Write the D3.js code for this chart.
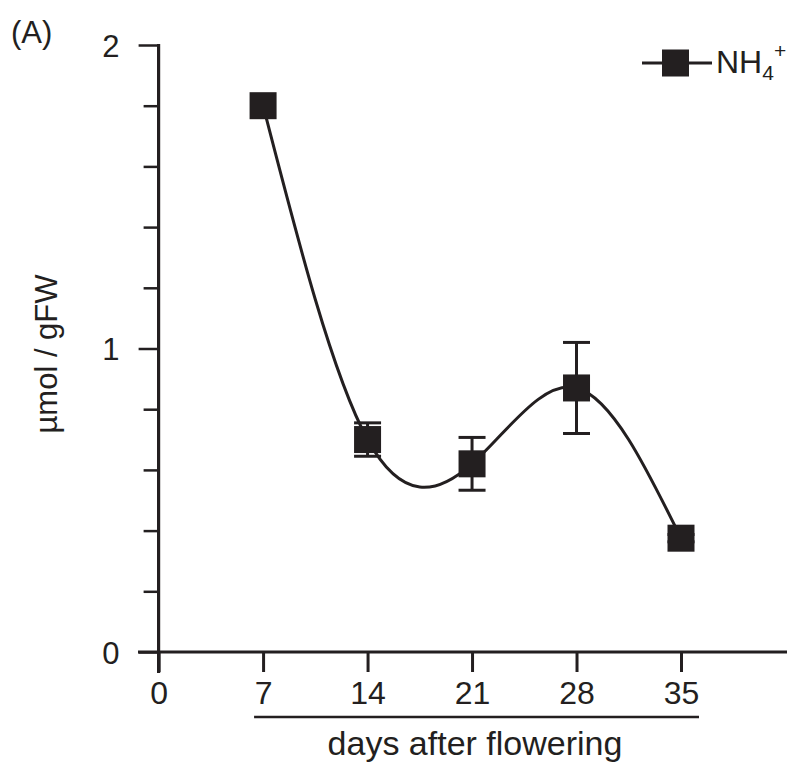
<!DOCTYPE html>
<html>
<head>
<meta charset="utf-8">
<script src="https://cdn.jsdelivr.net/npm/d3@7"></script>
<style>
  body { margin: 0; background: #fff; }
  text { font-family: "Liberation Sans", Arial, Helvetica, sans-serif; fill: #231f20; }
</style>
</head>
<body>
<svg id="chart"></svg>
<script>
// data
const days = [7, 14, 21, 28, 35];
const nh4 = [1.8, 0.70, 0.62, 0.87, 0.375];
const nh4Err = [0, 0.055, 0.087, 0.15, 0.012];
const xTickValues = [0, 7, 14, 21, 28, 35];
const yTickValues = [0, 0.2, 0.4, 0.6, 0.8, 1, 1.2, 1.4, 1.6, 1.8, 2];
const yTickLabels = { 0: '0', 1: '1', 2: '2' };

const width = 790;
const height = 764;
const ink = '#231f20';

const x = d3.scaleLinear().domain([0, 35]).range([158.6, 681]);
const y = d3.scaleLinear().domain([0, 2]).range([652, 45]);

const svg = d3.select('#chart')
  .attr('width', width)
  .attr('height', height);

// panel letter
svg.append('text')
  .attr('x', 11)
  .attr('y', 43)
  .attr('font-size', 31)
  .text('(A)');

// Y axis
const yAxis = d3.axisLeft(y)
  .tickValues(yTickValues)
  .tickSizeOuter(0)
  .tickFormat(d => yTickLabels[d] !== undefined ? yTickLabels[d] : '');

const gy = svg.append('g')
  .attr('transform', `translate(${x(0)},0)`)
  .call(yAxis);
gy.select('.domain').remove();
gy.selectAll('.tick line')
  .attr('stroke', ink)
  .attr('stroke-width', 2.5)
  .attr('x2', d => (d % 1 === 0 ? -20 : -15));
gy.selectAll('.tick text')
  .attr('x', -39)
  .attr('dy', '0.36em')
  .attr('font-size', 31)
  .attr('fill', ink);
gy.append('line')
  .attr('x1', 0).attr('x2', 0)
  .attr('y1', y(2) - 1).attr('y2', y(0) + 21)
  .attr('stroke', ink)
  .attr('stroke-width', 3.2);

// X axis
const xAxis = d3.axisBottom(x)
  .tickValues(xTickValues)
  .tickSizeOuter(0)
  .tickSize(20)
  .tickPadding(9);

const gx = svg.append('g')
  .attr('transform', `translate(0,${y(0)})`)
  .call(xAxis);
gx.select('.domain').remove();
gx.selectAll('.tick line')
  .attr('stroke', ink)
  .attr('stroke-width', 3);
gx.selectAll('.tick text')
  .attr('font-size', 32)
  .attr('fill', ink)
  .attr('dy', '0.72em');
gx.append('line')
  .attr('x1', 138).attr('x2', 787)
  .attr('y1', 0).attr('y2', 0)
  .attr('stroke', ink)
  .attr('stroke-width', 3.2);

// underline below day ticks
svg.append('line')
  .attr('x1', x(7) - 9).attr('x2', x(35) + 18)
  .attr('y1', 717).attr('y2', 717)
  .attr('stroke', ink)
  .attr('stroke-width', 2.5);

svg.append('text')
  .attr('x', 475)
  .attr('y', 755)
  .attr('text-anchor', 'middle')
  .attr('font-size', 34)
  .text('days after flowering');

// Y label
svg.append('text')
  .attr('transform', 'translate(57,354) rotate(-90)')
  .attr('text-anchor', 'middle')
  .attr('font-size', 31)
  .text('µmol / gFW');

// curve
const points = days.map((d, i) => ({ day: d, v: nh4[i], e: nh4Err[i] }));
const line = d3.line()
  .x(d => x(d.day))
  .y(d => y(d.v))
  .curve(d3.curveNatural);

svg.append('path')
  .datum(points)
  .attr('d', line)
  .attr('fill', 'none')
  .attr('stroke', ink)
  .attr('stroke-width', 3);

// error bars
const capW = 27;
const eb = svg.append('g');
points.filter(d => d.e > 0).forEach(d => {
  const cx = x(d.day);
  eb.append('line')
    .attr('x1', cx).attr('x2', cx)
    .attr('y1', y(d.v + d.e)).attr('y2', y(d.v - d.e))
    .attr('stroke', ink).attr('stroke-width', 3);
  [d.v + d.e, d.v - d.e].forEach(v => {
    eb.append('line')
      .attr('x1', cx - capW / 2).attr('x2', cx + capW / 2)
      .attr('y1', y(v)).attr('y2', y(v))
      .attr('stroke', ink).attr('stroke-width', 3);
  });
});

// markers
const size = 27;
svg.selectAll('rect.pt')
  .data(points)
  .enter()
  .append('rect')
  .attr('class', 'pt')
  .attr('x', d => x(d.day) - size / 2)
  .attr('y', d => y(d.v) - size / 2)
  .attr('width', size)
  .attr('height', size)
  .attr('fill', ink);

// legend
const lg = svg.append('g').attr('transform', 'translate(642,63)');
lg.append('line')
  .attr('x1', 0).attr('x2', 70)
  .attr('y1', 0).attr('y2', 0)
  .attr('stroke', ink).attr('stroke-width', 3);
lg.append('rect')
  .attr('x', 33.5 - size / 2).attr('y', -size / 2)
  .attr('width', size).attr('height', size)
  .attr('fill', ink);
const lt = lg.append('text')
  .attr('x', 74)
  .attr('y', 10)
  .attr('font-size', 32);
lt.append('tspan').text('NH');
lt.append('tspan').attr('font-size', 21).attr('dy', 7).text('4');
lt.append('tspan').attr('font-size', 21).attr('dy', -22).text('+');
</script>
</body>
</html>
